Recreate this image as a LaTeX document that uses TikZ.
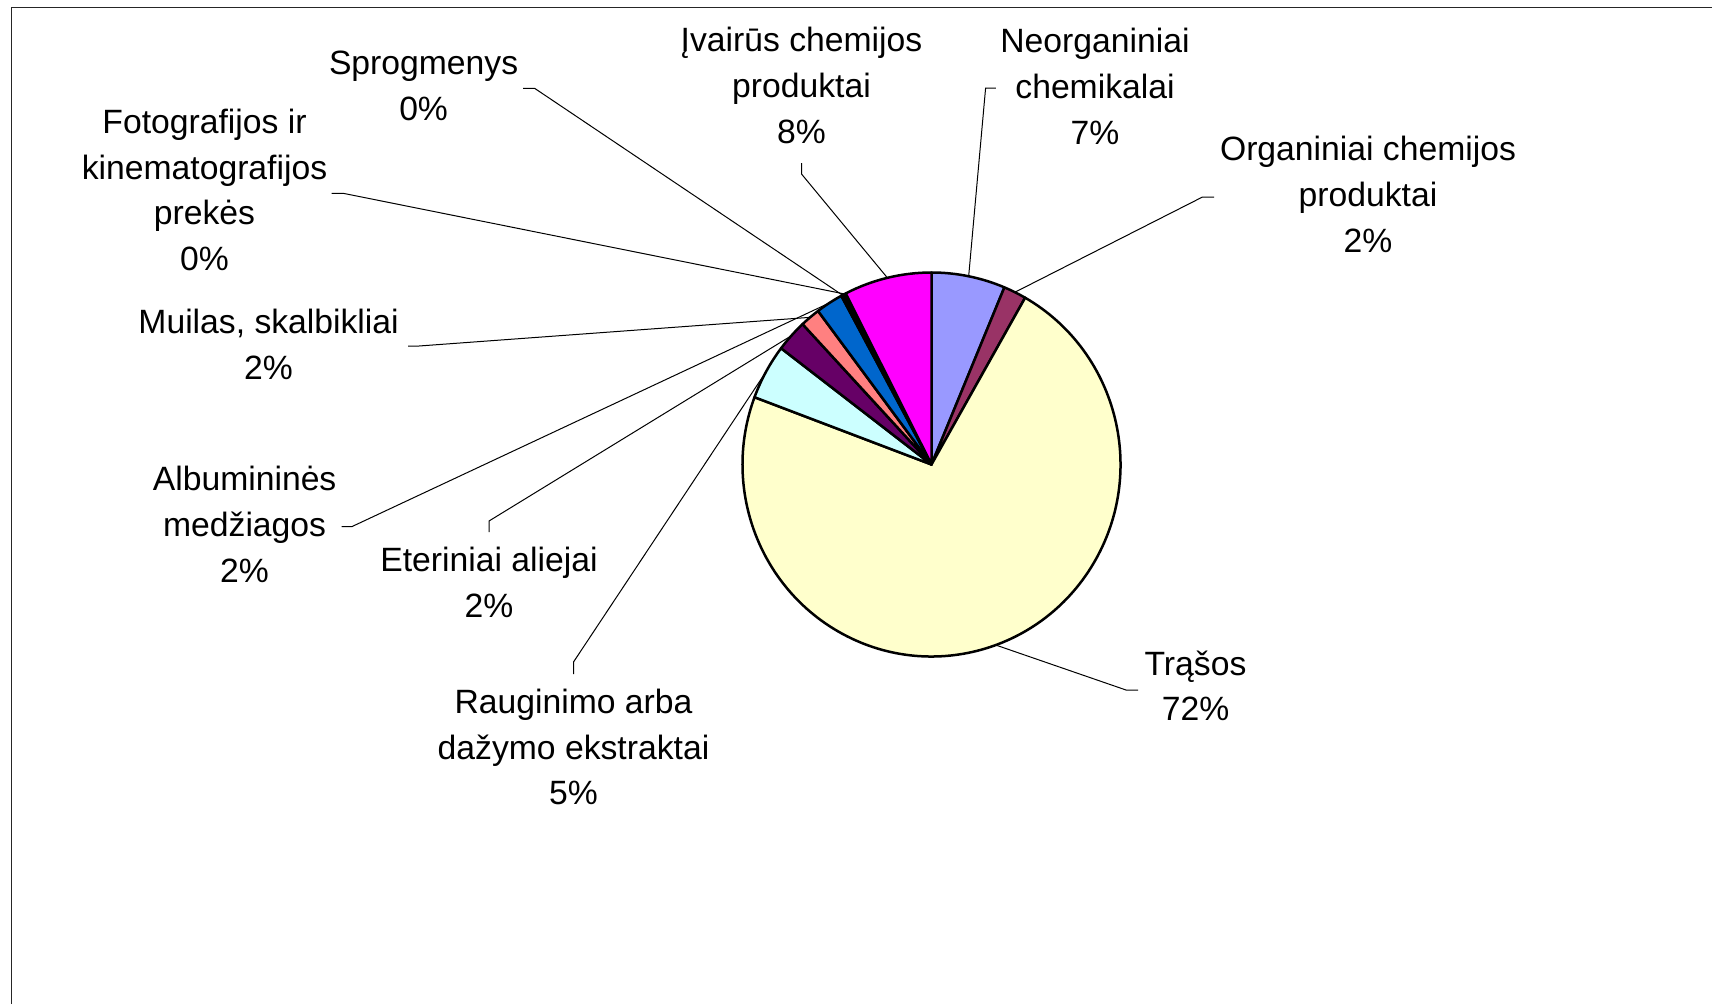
\documentclass[tikz,border=0pt]{standalone}
\usepackage{fontspec}
\setmainfont{Liberation Sans}
\usetikzlibrary{calc}
\definecolor{cNeo}{HTML}{9999FF}
\definecolor{cOrg}{HTML}{993366}
\definecolor{cTra}{HTML}{FFFFCC}
\definecolor{cRau}{HTML}{CCFFFF}
\definecolor{cEte}{HTML}{660066}
\definecolor{cMui}{HTML}{FF8080}
\definecolor{cAlb}{HTML}{0066CC}
\definecolor{cSpr}{HTML}{CCCCFF}
\definecolor{cFot}{HTML}{000080}
\definecolor{cIva}{HTML}{FF00FF}
\newcommand{\mystrut}{\rule{0pt}{27pt}}
\newcommand{\pieslice}[3]{%
  \filldraw[slice,fill=#1] (C) -- ($(C)+(#2:189 and 192)$)
    arc[start angle=#2,end angle=#3,x radius=189,y radius=192] -- cycle;}
\begin{document}
\begin{tikzpicture}[x=1pt,y=-1pt,
  slice/.style={draw=black,line width=2.5pt,line join=round},
  lead/.style={draw=black,line width=1pt},
  frame/.style={draw=black!85,line width=1.4pt},
  lbl/.style={anchor=north,inner sep=0pt,align=center,font=\fontsize{33.7}{45.86}\selectfont}]
\useasboundingbox (0,0) rectangle (1712,1004);
\fill[white] (0,0) rectangle (1712,1004);
\draw[frame] (11.7,1004) -- (11.7,7.7) -- (1712,7.7);
\coordinate (C) at (931.5,464.5);
% mid points of the slices on the pie edge
\coordinate (pNeo) at ($(C)+(-78.66:189 and 192)$);
\coordinate (pOrg) at ($(C)+(-63.81:189 and 192)$);
\coordinate (pTra) at ($(C)+(70.11:189 and 192)$);
\coordinate (pRau) at ($(C)+(208.89:189 and 192)$);
\coordinate (pEte) at ($(C)+(222.12:189 and 192)$);
\coordinate (pMui) at ($(C)+(230.04:189 and 192)$);
\coordinate (pAlb) at ($(C)+(237.3:189 and 192)$);
\coordinate (pSpr) at ($(C)+(241.9:189 and 192)$);
\coordinate (pFot) at ($(C)+(242.64:189 and 192)$);
\coordinate (pIva) at ($(C)+(256.5:189 and 192)$);
% labels
\node[lbl] (lSpr) at (423.6,47) {\mystrut Sprogmenys\\0\%};
\node[lbl] (lFot) at (204.5,106) {\mystrut Fotografijos ir\\kinematografijos\\prekės\\0\%};
\node[lbl] (lIva) at (801.5,24.5) {\mystrut Įvairūs chemijos\\produktai\\8\%};
\node[lbl] (lNeo) at (1095,25.5) {\mystrut Neorganiniai\\chemikalai\\7\%};
\node[lbl] (lOrg) at (1368,133.6) {\mystrut Organiniai chemijos\\produktai\\2\%};
\node[lbl] (lMui) at (268.6,306) {\mystrut Muilas, skalbikliai\\2\%};
\node[lbl] (lAlb) at (244.6,463.3) {\mystrut Albumininės\\medžiagos\\2\%};
\node[lbl] (lEte) at (489,544) {\mystrut Eteriniai aliejai\\2\%};
\node[lbl] (lRau) at (573.5,686) {\mystrut Rauginimo arba\\dažymo ekstraktai\\5\%};
\node[lbl] (lTra) at (1195.5,647.8) {\mystrut Trąšos\\72\%};
% elbows and tick ends
\coordinate (eSpr) at (534.6,88.3);  \coordinate (tSpr) at (523,88.3);
\coordinate (eFot) at (343.2,193.3); \coordinate (tFot) at (331.7,193.3);
\coordinate (eIva) at (801.5,174);   \coordinate (tIva) at (801.5,163);
\coordinate (eNeo) at (985.6,88);    \coordinate (tNeo) at (995.8,88);
\coordinate (eOrg) at (1202.5,197);  \coordinate (tOrg) at (1214,197);
\coordinate (eMui) at (419,346);     \coordinate (tMui) at (408,346);
\coordinate (eAlb) at (351.7,526.7); \coordinate (tAlb) at (341.7,526.7);
\coordinate (eEte) at (489,521);     \coordinate (tEte) at (489,532);
\coordinate (eRau) at (573.5,662);   \coordinate (tRau) at (573.5,674);
\coordinate (eTra) at (1126,690);    \coordinate (tTra) at (1138,690);
\foreach \n in {Spr,Fot,Iva,Neo,Org,Mui,Alb,Ete,Rau,Tra}{
  \draw[lead] (p\n) -- (e\n) -- (t\n);
}
% slices: clockwise from top (angles grow clockwise because y points down)
\pieslice{cNeo}{-90}{-67.32}
\pieslice{cOrg}{-67.32}{-60.3}
\pieslice{cTra}{-60.3}{200.52}
\pieslice{cRau}{200.52}{217.26}
\pieslice{cEte}{217.26}{226.98}
\pieslice{cMui}{226.98}{233.1}
\pieslice{cAlb}{233.1}{241.49}
\pieslice{cSpr}{241.49}{242.28}
\pieslice{cFot}{242.28}{243.0}
\pieslice{cIva}{243.0}{270}
\end{tikzpicture}
\end{document}
